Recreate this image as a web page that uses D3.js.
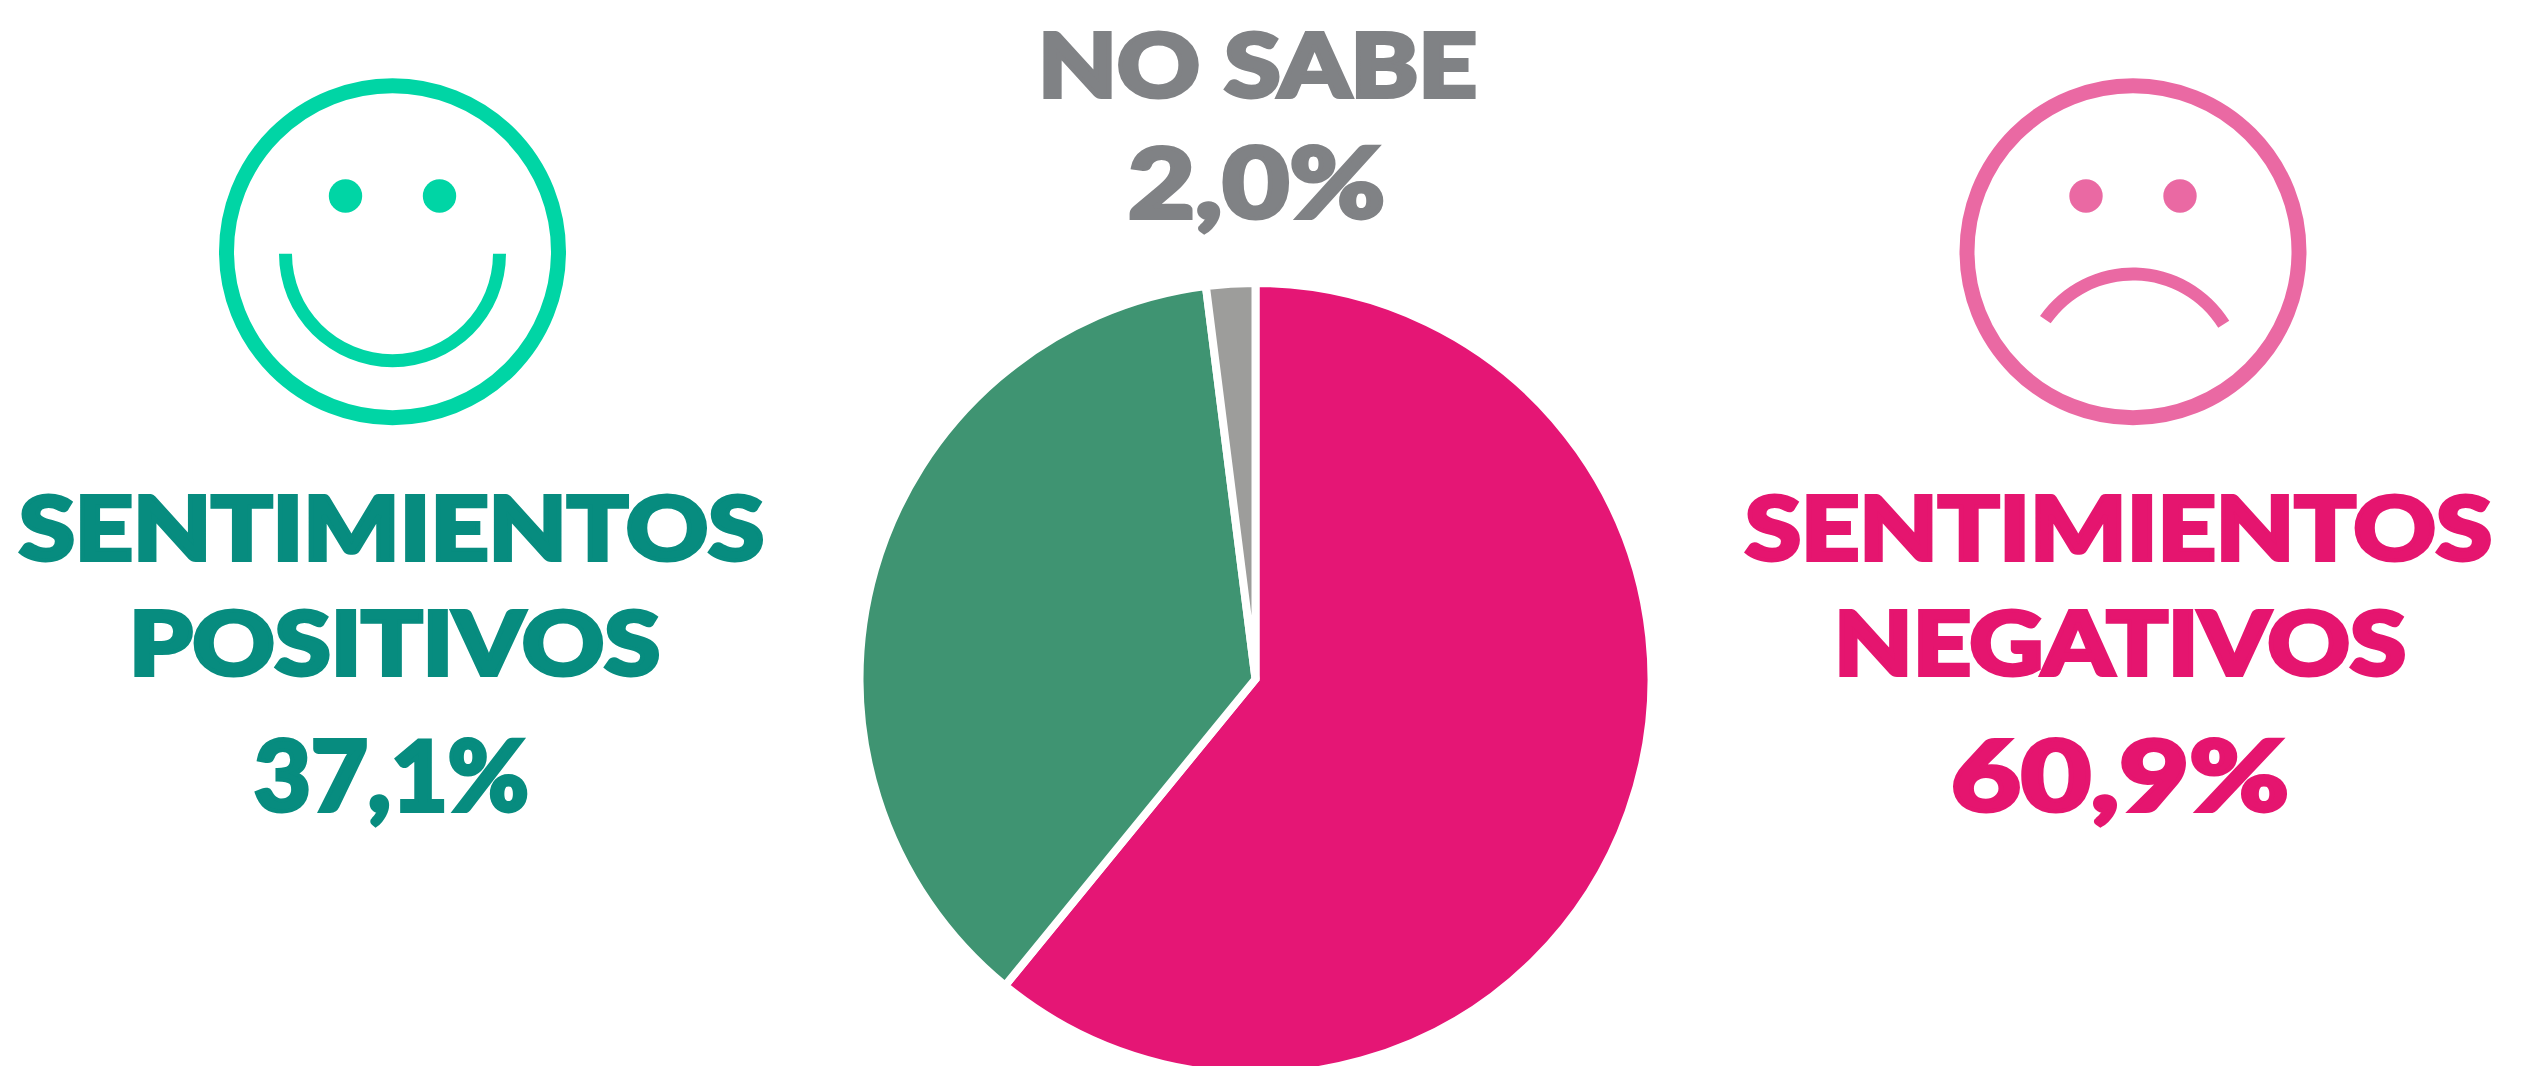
<!DOCTYPE html>
<html>
<head>
<meta charset="utf-8">
<script src="https://cdn.jsdelivr.net/npm/d3@7"></script>
<style>
    html, body { margin: 0; padding: 0; background: #fff; overflow: hidden; }
    text { font-family: Lato, Inter, "Liberation Sans", sans-serif; font-weight: 900; }
</style>
</head>
<body>
<div id="chart"></div>
<script>
// values
const categories = ["Sentimientos negativos", "Sentimientos positivos", "No sabe"];
const values = [60.9, 37.1, 2.0];
const valueLabels = ["60,9%", "37,1%", "2,0%"];
const sliceColors = ["#e51675", "#3f9472", "#9d9d9b"];

const width = 2526;
const height = 1066;

const svg = d3.select("#chart")
    .append("svg")
    .attr("width", width)
    .attr("height", height);

// pie, runs clockwise from 12 o'clock
const pie = d3.pie().sort(null).value(d => d);
const arc = d3.arc().innerRadius(0).outerRadius(396);

svg.append("g")
    .attr("transform", "translate(1255.5,679)")
    .selectAll("path")
    .data(pie(values))
    .join("path")
    .attr("d", arc)
    .attr("fill", (d, i) => sliceColors[i])
    .attr("stroke", "#fff")
    .attr("stroke-width", 8);

// text lines, x0/x1 are the ink extents so the font gets fitted to them
const textStroke = 4; // Lato Black is lighter than the original lettering
const textLines = [
    {text: "NO SABE", x0: 1036, x1: 1479, y: 97, size: 88, fill: "#808285"},
    {text: valueLabels[2], x0: 1126, x1: 1387, y: 218, size: 98, fill: "#808285"},
    {text: "SENTIMIENTOS", x0: 17, x1: 766, y: 560, size: 88, fill: "#078c7f"},
    {text: "POSITIVOS", x0: 127, x1: 662, y: 675, size: 88, fill: "#078c7f"},
    {text: valueLabels[1], x0: 252, x1: 531, y: 811, size: 98, fill: "#078c7f"},
    {text: "SENTIMIENTOS", x0: 1743, x1: 2494, y: 560, size: 88, fill: "#e5156f"},
    {text: "NEGATIVOS", x0: 1832, x1: 2408, y: 675, size: 88, fill: "#e5156f"},
    {text: valueLabels[0], x0: 1949, x1: 2291, y: 811, size: 98, fill: "#e5156f"}
];

svg.append("g")
    .selectAll("text")
    .data(textLines)
    .join("text")
    .attr("x", d => d.x0 + textStroke / 2)
    .attr("y", d => d.y)
    .attr("font-size", d => d.size)
    .attr("textLength", d => d.x1 - d.x0 - textStroke)
    .attr("lengthAdjust", "spacingAndGlyphs")
    .attr("fill", d => d.fill)
    .attr("stroke", d => d.fill)
    .attr("stroke-width", textStroke)
    .attr("stroke-linejoin", "miter")
    .text(d => d.text);

// smiley faces
function drawFace(cx, color, mouth) {
    const face = svg.append("g").attr("transform", `translate(${cx},251.7)`);
    face.append("circle")
        .attr("r", 166)
        .attr("fill", "none")
        .attr("stroke", color)
        .attr("stroke-width", 15);
    face.selectAll(".eye")
        .data([-47, 47])
        .join("circle")
        .attr("class", "eye")
        .attr("cx", d => d)
        .attr("cy", -55.7)
        .attr("r", 16.7)
        .attr("fill", color);
    face.append("path")
        .attr("transform", `translate(0,${mouth.y})`)
        .attr("d", d3.arc()({
            innerRadius: 107 - 6.5,
            outerRadius: 107 + 6.5,
            startAngle: mouth.start * Math.PI / 180,
            endAngle: mouth.end * Math.PI / 180
        }))
        .attr("fill", color);
}

drawFace(392.5, "#00d5a5", {y: 2, start: 90, end: 270});
drawFace(2133, "#ea69a3", {y: 129.3, start: -55, end: 58});
</script>
</body>
</html>
